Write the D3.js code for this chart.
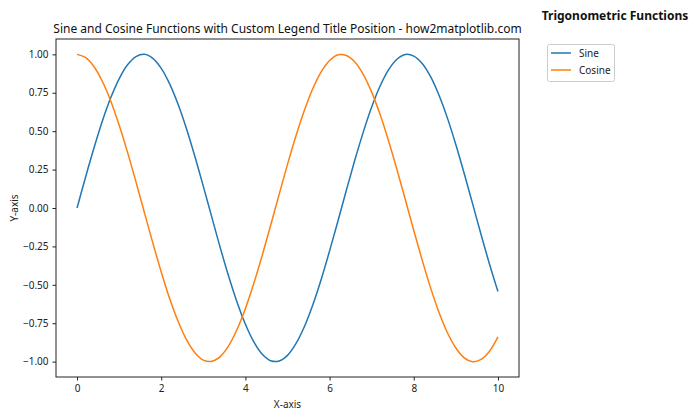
<!DOCTYPE html>
<html><head><meta charset="utf-8">
<script src="https://cdn.jsdelivr.net/npm/d3@7"></script>
<style>body{margin:0;background:#fff}svg{font-family:"Noto Sans","Open Sans",sans-serif}</style>
</head><body><svg id="c" width="700" height="420"></svg>
<script>
const xValues = [0,0.2,0.4,0.6,0.8,1.0,1.2,1.4,1.6,1.8,2.0,2.2,2.4,2.6,2.8,3.0,3.2,3.4,3.6,3.8,4.0,4.2,4.4,4.6,4.8,5.0,5.2,5.4,5.6,5.8,6.0,6.2,6.4,6.6,6.8,7.0,7.2,7.4,7.6,7.8,8.0,8.2,8.4,8.6,8.8,9.0,9.2,9.4,9.6,9.8,10.0];
const sineValues = [0,0.199,0.389,0.565,0.717,0.841,0.932,0.985,1.000,0.974,0.909,0.808,0.675,0.516,0.335,0.141,-0.058,-0.256,-0.443,-0.612,-0.757,-0.872,-0.952,-0.994,-0.996,-0.959,-0.883,-0.773,-0.631,-0.465,-0.279,-0.083,0.117,0.312,0.494,0.657,0.794,0.899,0.968,0.999,0.989,0.941,0.855,0.734,0.585,0.412,0.223,0.025,-0.174,-0.366,-0.544];
const cosineValues = [1.000,0.980,0.921,0.825,0.697,0.540,0.362,0.170,-0.029,-0.227,-0.416,-0.589,-0.737,-0.857,-0.942,-0.990,-0.998,-0.967,-0.897,-0.791,-0.654,-0.490,-0.307,-0.112,0.087,0.284,0.469,0.635,0.776,0.886,0.960,0.997,0.993,0.951,0.870,0.754,0.608,0.438,0.251,0.054,-0.146,-0.339,-0.520,-0.680,-0.812,-0.911,-0.975,-1.000,-0.985,-0.932,-0.839];
const seriesNames = ["Sine","Cosine"];
const seriesColors = ["#1f77b4","#ff7f0e"];
const xTicks = [0,2,4,6,8,10];
const yTicks = [-1.00,-0.75,-0.50,-0.25,0.00,0.25,0.50,0.75,1.00];

const svg = d3.select("#c");
const L=56,R=519,T=39,B=377;
const x = d3.scaleLinear().domain([-0.5,10.5]).range([L,R]);
const y = d3.scaleLinear().domain([-1.1,1.1]).range([B,T]);

const xa = svg.append("g").attr("transform",`translate(0,${B})`)
  .call(d3.axisBottom(x).tickValues(xTicks).tickFormat(d3.format("d")).tickSize(3.5).tickPadding(4));
const ya = svg.append("g").attr("transform",`translate(${L},0)`)
  .call(d3.axisLeft(y).tickValues(yTicks).tickFormat(d3.format(".2f")).tickSize(3.5).tickPadding(4));
[xa,ya].forEach(a=>{a.select(".domain").remove();a.selectAll("text").attr("font-size",10).attr("fill","#222").attr("font-family","Noto Sans");a.selectAll("line").attr("stroke","#222");});

const line = d3.line().x((d,i)=>x(xValues[i])).y(d=>y(d)).curve(d3.curveCatmullRom);
[sineValues,cosineValues].forEach((s,k)=>{
  svg.append("path").attr("d",line(s)).attr("fill","none").attr("stroke",seriesColors[k]).attr("stroke-width",1.5);
});
svg.append("rect").attr("x",L).attr("y",T).attr("width",R-L).attr("height",B-T).attr("fill","none").attr("stroke","#222").attr("stroke-width",1);

svg.append("text").attr("x",(L+R)/2).attr("y",33).attr("text-anchor","middle").attr("font-size",12).attr("fill","#111")
  .text("Sine and Cosine Functions with Custom Legend Title Position - how2matplotlib.com");
svg.append("text").attr("x",(L+R)/2).attr("y",408).attr("text-anchor","middle").attr("font-size",10).attr("fill","#222").text("X-axis");
svg.append("text").attr("transform",`translate(18,${(T+B)/2}) rotate(-90)`).attr("text-anchor","middle").attr("font-size",10).attr("fill","#222").text("Y-axis");

svg.append("text").attr("x",615).attr("y",20).attr("text-anchor","middle").attr("font-size",12).attr("font-weight","bold").attr("fill","#111").text("Trigonometric Functions");
const lg = svg.append("g");
lg.append("rect").attr("x",547.5).attr("y",44.5).attr("width",67).attr("height",37).attr("rx",2).attr("fill","#fff").attr("stroke","#ccc");
seriesNames.forEach((n,i)=>{
  const yy = 53+i*17;
  lg.append("line").attr("x1",551).attr("x2",571).attr("y1",yy).attr("y2",yy).attr("stroke",seriesColors[i]).attr("stroke-width",1.5);
  lg.append("text").attr("x",579).attr("y",yy+3.5).attr("font-size",10).attr("fill","#222").text(n);
});
</script></body></html>
